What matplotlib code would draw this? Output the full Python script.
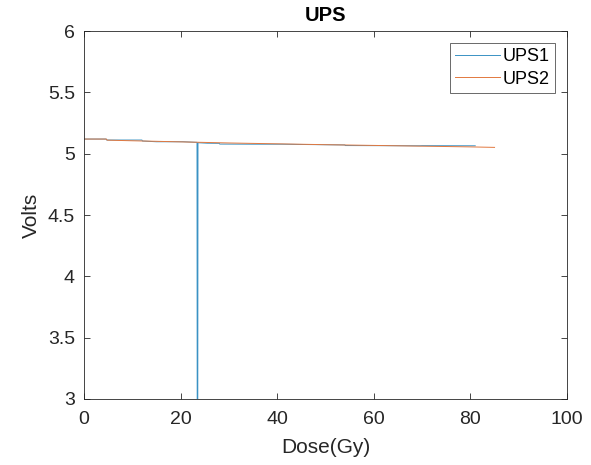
import matplotlib
matplotlib.use("Agg")
import matplotlib.pyplot as plt

plt.rcParams['font.family'] = ['Liberation Sans', 'DejaVu Sans']

# UPS1 supply voltage (quantised steps, one dropout near 23.5 Gy)
dose_ups1 = [0.0, 4.6, 4.7, 12.0, 12.1, 15.0, 20.5, 23.4, 23.5, 23.6, 25.5, 28.0, 28.1,
             35.0, 41.0, 44.5, 54.0, 54.1, 69.5, 70.0, 81.0]
volt_ups1 = [5.120, 5.120, 5.112, 5.112, 5.104, 5.098, 5.098, 5.093, 0.0, 5.090, 5.086,
             5.085, 5.079, 5.078, 5.078, 5.076, 5.072, 5.067, 5.065, 5.066, 5.065]

# UPS2 supply voltage
dose_ups2 = [0.0, 4.6, 4.8, 10.0, 20.0, 30.0, 40.0, 50.0, 60.0, 70.0, 80.0, 85.0]
volt_ups2 = [5.120, 5.120, 5.111, 5.106, 5.097, 5.088, 5.081, 5.074, 5.068, 5.062, 5.056, 5.052]

x_ticks = [0, 20, 40, 60, 80, 100]
y_ticks = [3, 3.5, 4, 4.5, 5, 5.5, 6]

fig = plt.figure(figsize=(5.91, 4.65), dpi=100)
ax = fig.add_axes([0.1421, 0.142, 0.8173, 0.791])

ax.plot(dose_ups1, volt_ups1, color='#3a92c4', lw=0.7, label='UPS1')
ax.plot(dose_ups2, volt_ups2, color='#e2783f', lw=0.7, label='UPS2')

ax.set_xlim(0, 100)
ax.set_ylim(3, 6)
ax.set_xticks(x_ticks)
ax.set_yticks(y_ticks)
ax.set_xticklabels([f'{v:g}' for v in x_ticks])
ax.set_yticklabels([f'{v:g}' for v in y_ticks])

ax.tick_params(direction='in', top=True, right=True, length=4, width=0.6,
               labelsize=14, colors='#262626')
ax.tick_params(axis='x', pad=9)
ax.tick_params(axis='y', pad=6.5)
for s in ax.spines.values():
    s.set_linewidth(0.6)
    s.set_color('#262626')

ax.set_xlabel('Dose(Gy)', fontsize=15, color='#262626', labelpad=7)
ax.set_ylabel('Volts', fontsize=15, color='#262626', labelpad=5)
ax.set_title('UPS', fontsize=14.5, fontweight='bold', color='black', pad=7)

leg = ax.legend(loc='upper right', fontsize=13, frameon=True, fancybox=False,
                edgecolor='#262626', borderpad=0.3, handlelength=2.5,
                handletextpad=0.15, labelspacing=0.3, borderaxespad=0.65)
leg.get_frame().set_linewidth(0.6)

fig.savefig('out.png', dpi=100)
